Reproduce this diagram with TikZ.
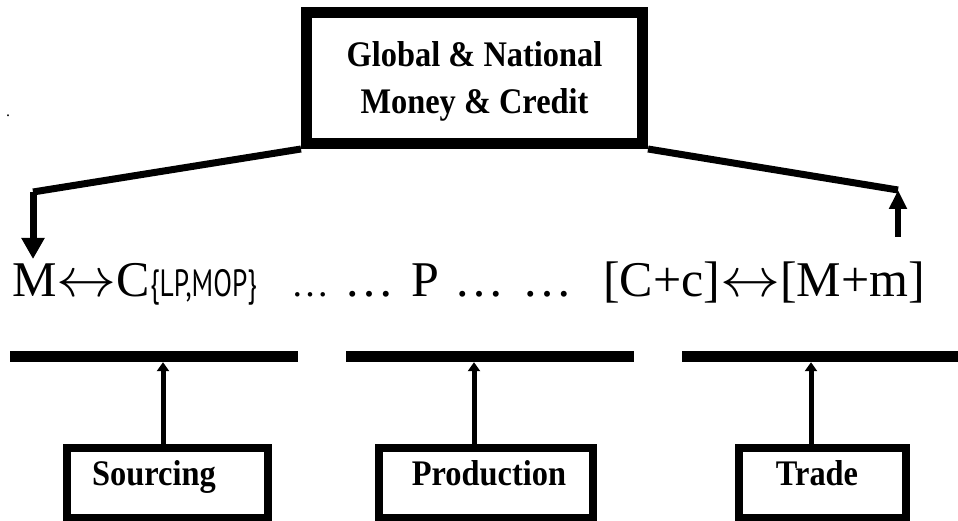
\documentclass[tikz,border=0pt]{standalone}
\usepackage{fontspec}
\setmainfont{Liberation Serif}
\newfontfamily\boxfont{Liberation Serif}[FakeStretch=0.9]
\newfontfamily\lpfont{PT Sans}[FakeStretch=0.72]
\usetikzlibrary{arrows.meta}
\newcommand{\lrarr}{{\fontsize{10}{12}\selectfont\scalebox{6}[5.5]{$\leftrightarrow$}}}
\begin{document}
\begin{tikzpicture}[x=1pt,y=-1pt,
  bigbox/.style={draw, line width=11pt, minimum width=336pt, minimum height=131pt,
    inner sep=0pt,
    font=\boxfont\bfseries\fontsize{36}{47}\selectfont, align=center},
  smallbox/.style={draw, line width=8pt, minimum height=70pt, inner sep=0pt},
  lbl/.style={font=\boxfont\bfseries\fontsize{36}{40}\selectfont, anchor=base, inner sep=0pt},
  bar/.style={fill=black, minimum height=11pt, inner sep=0pt},
  bigtxt/.style={font=\fontsize{50}{55}\selectfont, anchor=base west, inner sep=0pt},
  midtxt/.style={font=\fontsize{38}{42}\selectfont, anchor=base west, inner sep=0pt},
  lptxt/.style={font=\lpfont\fontsize{38}{42}\selectfont, anchor=base west, inner sep=0pt},
  thick line/.style={line width=7pt, line join=miter},
  bigarrow/.style={line width=7pt, -{Triangle[width=22pt,length=21pt]}},
  upbigarrow/.style={line width=6pt, -{Triangle[width=17pt,length=19pt]}},
  smallarrow/.style={line width=5pt, -{Triangle[width=12pt,length=9pt]}}
]
\useasboundingbox (0,0) rectangle (958,521);

% stray dot
\node[inner sep=0pt, font=\fontsize{16}{18}\selectfont] (dot) at (8,116) {.};

% top box
\node[bigbox] (gbox) at (474.5,78) {\rule{0pt}{31pt}Global \& National\\Money \& Credit};

% main row
\node[bigtxt] (mc) at (12,297) {M\lrarr C};
\node[lptxt] (lp) at (150,297) {\{LP,MOP\}};
\node[midtxt] (e1) at (291,297) {…};
\node[bigtxt] (e2) at (344,297) {…};
\node[bigtxt] (p) at (411,297) {P};
\node[bigtxt] (e3) at (454,297) {…};
\node[bigtxt] (e4) at (522,297) {…};
\node[bigtxt] (cm) at (603,297) {[C+c]\lrarr[M+m]};

% connectors from the top box
\coordinate (lc) at (33,192);
\coordinate (la) at (33,259);
\coordinate (rc) at (898,190);
\coordinate (ra) at (898,237);
\draw[thick line] (gbox.south west) -- (lc);
\draw[bigarrow] (lc) -- (la);
\draw[thick line] (gbox.south east) -- (rc);
\draw[upbigarrow] (ra) -- (rc);

% bars
\node[bar, minimum width=288pt] (sbar) at (154,356.5) {};
\node[bar, minimum width=288pt] (pbar) at (490,356.5) {};
\node[bar, minimum width=276pt] (tbar) at (820,356.5) {};

% bottom boxes
\node[smallbox, minimum width=201pt] (sbox) at (167.5,483) {};
\node[smallbox, minimum width=214pt] (pbox) at (486,483) {};
\node[smallbox, minimum width=167pt] (tbox) at (822.5,483) {};
\node[lbl] (stxt) at (154,485) {Sourcing};
\node[lbl] (ptxt) at (489,485) {Production};
\node[lbl] (ttxt) at (817,485) {Trade};

% arrows up to the bars
\coordinate (sx) at (163,0);
\coordinate (px) at (474,0);
\coordinate (tx) at (811,0);
\draw[smallarrow] (sbox.north -| sx) -- (sbar.south -| sx);
\draw[smallarrow] (pbox.north -| px) -- (pbar.south -| px);
\draw[smallarrow] (tbox.north -| tx) -- (tbar.south -| tx);
\end{tikzpicture}
\end{document}
